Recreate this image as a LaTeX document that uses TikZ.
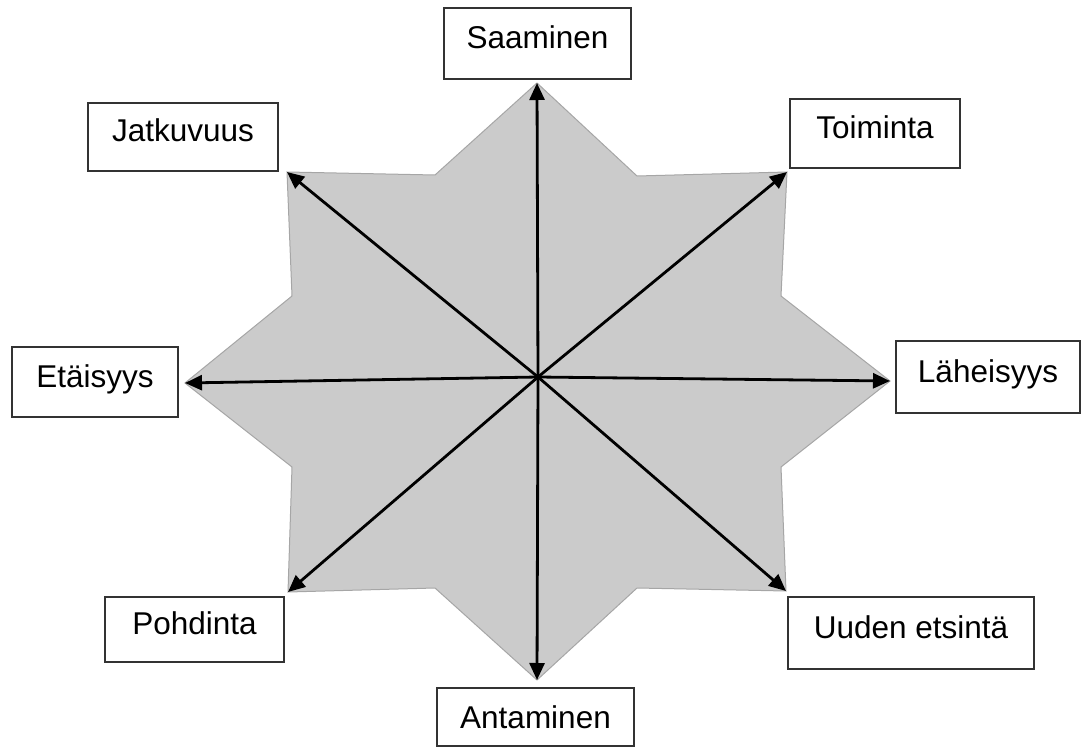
\documentclass[tikz,border=0pt]{standalone}
\usepackage{fontspec}
\setmainfont{Liberation Sans}
\usetikzlibrary{arrows.meta}
\definecolor{starfill}{HTML}{CBCBCB}
\definecolor{stardraw}{HTML}{A6A6A6}
\definecolor{boxdraw}{HTML}{333333}
\tikzset{
  lbl/.style={draw=boxdraw, line width=1.2pt, fill=white, inner sep=0pt,
    font=\fontsize{31.5}{36}\selectfont, text height=22pt, text depth=12pt},
  ray/.style={line width=2.8pt, -{Triangle[length=17pt,width=15pt]}}
}
\begin{document}
\begin{tikzpicture}[x=1pt,y=-1pt]
\useasboundingbox (0,0) rectangle (1082,749);
% star points
\coordinate (T) at (537,83);
\coordinate (i1) at (637,176);
\coordinate (TR) at (787,172);
\coordinate (i2) at (781,296);
\coordinate (R) at (890,381);
\coordinate (i3) at (781,467);
\coordinate (BR) at (786,591);
\coordinate (i4) at (637,588);
\coordinate (B) at (537,680);
\coordinate (i5) at (435,588);
\coordinate (BL) at (288,592);
\coordinate (i6) at (292,467);
\coordinate (L) at (185,383);
\coordinate (i7) at (292,296);
\coordinate (TL) at (287,172);
\coordinate (i8) at (435,175);
\coordinate (C) at (538,377);
\filldraw[fill=starfill, draw=stardraw, line width=1pt, line join=miter]
  (T) -- (i1) -- (TR) -- (i2) -- (R) -- (i3) -- (BR) -- (i4) -- (B) -- (i5) --
  (BL) -- (i6) -- (L) -- (i7) -- (TL) -- (i8) -- cycle;
% arrows
\foreach \p in {T,TR,R,BR,B,BL,L,TL}
  \draw[ray] (C) -- (\p);
% labels
\node[lbl, minimum width=187pt, minimum height=71pt] (saaminen) at (537.5,43.5) {Saaminen};
\node[lbl, minimum width=190pt, minimum height=68pt] (jatkuvuus) at (183,137) {Jatkuvuus};
\node[lbl, minimum width=170pt, minimum height=69pt] (toiminta) at (875,133.5) {Toiminta};
\node[lbl, minimum width=166pt, minimum height=70pt] (etaisyys) at (95,382) {Etäisyys};
\node[lbl, minimum width=184pt, minimum height=72pt] (laheisyys) at (988,377) {Läheisyys};
\node[lbl, minimum width=179pt, minimum height=65pt] (pohdinta) at (194.5,629.5) {Pohdinta};
\node[lbl, minimum width=246pt, minimum height=72pt] (uuden) at (911,633) {Uuden etsintä};
\node[lbl, minimum width=197pt, minimum height=58pt, text depth=0pt] (antaminen) at (535.5,717) {Antaminen};
\end{tikzpicture}
\end{document}
